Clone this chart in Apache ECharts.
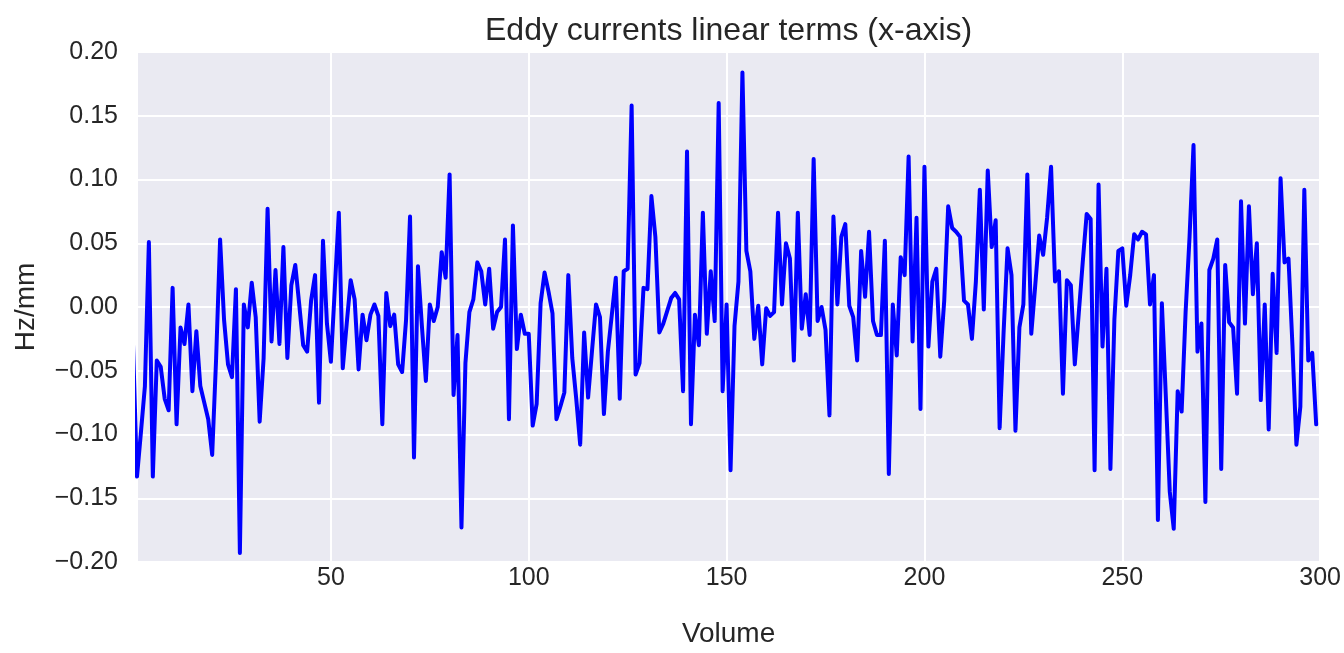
<!DOCTYPE html>
<html><head><meta charset="utf-8">
<script src="https://cdn.jsdelivr.net/npm/echarts@6/dist/echarts.min.js"></script>
<style>html,body{margin:0;padding:0;background:#fff}#c{width:1344px;height:653px}</style>
</head><body><div id="c"></div>
<script>
const chartTitle = 'Eddy currents linear terms (x-axis)';
const xAxisName = 'Volume';
const yAxisName = 'Hz/mm';
const firstVolume = 0;           // volume index of the first value
const xMin = 1, xMax = 300;
const yMin = -0.2, yMax = 0.2, yStep = 0.05;

// Eddy-current linear term (x-axis) per volume, Hz/mm
const eddyX = [
  -0.03,
  -0.133, -0.098, -0.062, 0.051, -0.133, -0.042, -0.047, -0.072, -0.081, 0.015,
  -0.092, -0.016, -0.029, 0.002, -0.066, -0.019, -0.062, -0.075, -0.088, -0.116,
  -0.04, 0.053, -0.01, -0.045, -0.055, 0.014, -0.193, 0.002, -0.016, 0.019,
  -0.008, -0.09, -0.04, 0.077, -0.027, 0.029, -0.029, 0.047, -0.04, 0.017,
  0.033, 0.002, -0.03, -0.035, 0.005, 0.025, -0.075, 0.052, -0.013, -0.043,
  0.015, 0.074, -0.048, -0.013, 0.021, 0.006, -0.049, -0.006, -0.026, -0.006,
  0.002, -0.007, -0.092, 0.011, -0.015, -0.006, -0.045, -0.051, -0.01, 0.071,
  -0.118, 0.032, -0.015, -0.058, 0.002, -0.011, 0.0, 0.043, 0.023, 0.104,
  -0.069, -0.022, -0.173, -0.044, -0.004, 0.006, 0.035, 0.028, 0.002, 0.030,
  -0.017, -0.004, 0.0, 0.053, -0.088, 0.064, -0.033, -0.006, -0.021, -0.021,
  -0.093, -0.076, 0.003, 0.027, 0.012, -0.005, -0.088, -0.078, -0.067, 0.025,
  -0.04, -0.072, -0.108, -0.020, -0.071, -0.034, 0.002, -0.008, -0.084, -0.035,
  -0.006, 0.023, -0.072, 0.028, 0.030, 0.158, -0.053, -0.044, 0.015, 0.014,
  0.087, 0.055, -0.020, -0.013, -0.003, 0.007, 0.011, 0.006, -0.066, 0.122,
  -0.092, -0.006, -0.030, 0.074, -0.021, 0.028, -0.011, 0.160, -0.066, 0.002,
  -0.128, -0.015, 0.02, 0.184, 0.044, 0.028, -0.025, 0.001, -0.045, -0.001,
  -0.007, -0.004, 0.074, 0.002, 0.050, 0.038, -0.042, 0.074, -0.017, 0.010,
  -0.022, 0.116, -0.011, 0.0, -0.018, -0.085, 0.071, 0.002, 0.055, 0.065,
  0.001, -0.008, -0.042, 0.044, 0.008, 0.059, -0.011, -0.022, -0.022, 0.052,
  -0.131, 0.002, -0.038, 0.039, 0.025, 0.118, -0.027, 0.070, -0.080, 0.110,
  -0.031, 0.02, 0.030, -0.039, 0.005, 0.079, 0.062, 0.059, 0.055, 0.005,
  0.002, -0.025, 0.02, 0.092, -0.002, 0.107, 0.047, 0.068, -0.095, -0.02,
  0.046, 0.025, -0.097, -0.016, 0.002, 0.104, -0.021, 0.017, 0.056, 0.041,
  0.07, 0.110, 0.020, 0.028, -0.068, 0.021, 0.017, -0.045, -0.005, 0.035,
  0.073, 0.069, -0.128, 0.096, -0.031, 0.030, -0.127, -0.01, 0.044, 0.046,
  0.001, 0.025, 0.057, 0.053, 0.059, 0.057, 0.002, 0.025, -0.167, 0.003,
  -0.07, -0.145, -0.174, -0.066, -0.082, -0.004, 0.055, 0.127, -0.035, -0.013,
  -0.153, 0.029, 0.038, 0.053, -0.127, 0.033, -0.012, -0.016, -0.068, 0.083,
  -0.013, 0.079, 0.010, 0.050, -0.073, 0.002, -0.096, 0.026, -0.036, 0.101,
  0.035, 0.038, -0.03, -0.108, -0.078, 0.092, -0.042, -0.036, -0.092
];

const seriesData = eddyX.map((v, i) => [firstVolume + i, v]);
const fontFamily = '"Liberation Sans", Arial, sans-serif';
const txt = '#262626';

const chart = echarts.init(document.getElementById('c'), null, {renderer: 'canvas'});
chart.setOption({
  animation: false,
  backgroundColor: '#ffffff',
  title: {
    text: chartTitle,
    left: 485, top: 15, padding: 0,
    textStyle: {fontFamily, fontSize: 32, fontWeight: 'normal', color: txt}
  },
  grid: {
    left: 137, right: 23, top: 52, bottom: 83,
    show: true, backgroundColor: '#EAEAF2', borderWidth: 0
  },
  xAxis: {
    type: 'value', min: xMin, max: xMax,
    name: xAxisName, nameLocation: 'middle', nameGap: 58,
    nameTextStyle: {fontFamily, fontSize: 28, color: txt},
    axisLine: {show: false}, axisTick: {show: false},
    axisLabel: {fontFamily, fontSize: 25, color: txt, margin: 4, showMinLabel: false},
    splitLine: {show: true, lineStyle: {color: '#ffffff', width: 2}}
  },
  yAxis: {
    type: 'value', min: yMin, max: yMax, interval: yStep,
    name: yAxisName, nameLocation: 'middle', nameGap: 97, nameRotate: 90,
    nameTextStyle: {fontFamily, fontSize: 28, color: txt},
    axisLine: {show: false}, axisTick: {show: false},
    axisLabel: {fontFamily, fontSize: 25, color: txt, margin: 19, padding: [6, 0, 0, 0],
      formatter: v => (Math.abs(v) < 1e-9 ? 0 : v).toFixed(2).replace('-', '\u2212')},
    splitLine: {show: true, lineStyle: {color: '#ffffff', width: 2}}
  },
  series: [{
    type: 'line', data: seriesData, showSymbol: false, clip: true,
    lineStyle: {color: '#0000FF', width: 4, join: 'round', cap: 'round'},
    itemStyle: {color: '#0000FF'}
  }]
});
</script></body></html>
